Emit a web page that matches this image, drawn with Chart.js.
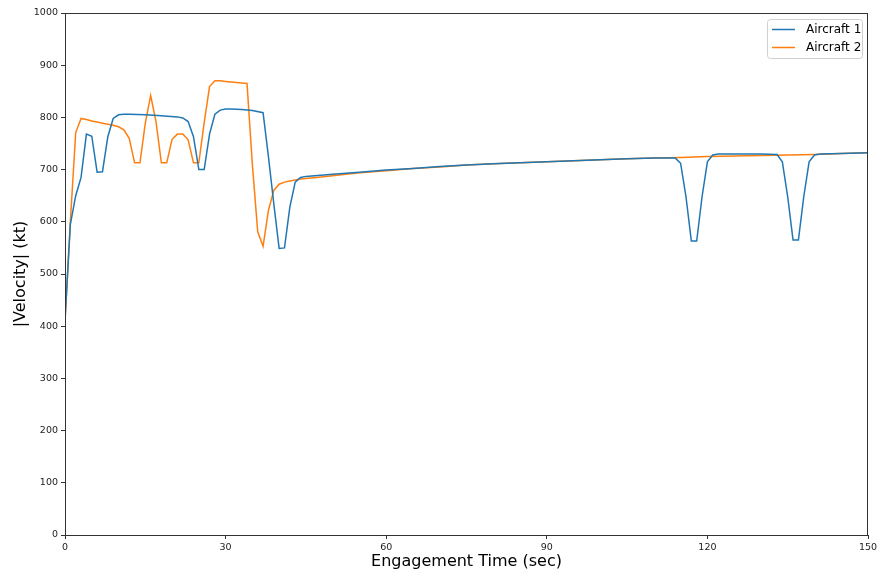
<!DOCTYPE html>
<html>
<head>
<meta charset="utf-8">
<script src="https://cdn.jsdelivr.net/npm/chart.js@4"></script>
<style>
  html, body { margin: 0; padding: 0; background: #fff; }
  #wrap { width: 877px; height: 571px; }
</style>
</head>
<body>
<div id="wrap"><canvas id="chart" width="877" height="571"></canvas></div>
<script>
// engagement time (sec) and speed (kt)
const timeA = [0, 1, 2, 3, 4, 5, 6, 7, 8, 9, 10, 11, 12, 15, 18, 21, 22, 23, 24, 25, 26, 27, 28, 29, 30, 31, 33, 35, 37, 38, 39, 40, 41, 42, 43, 44, 45, 50, 55, 60, 65, 70, 75, 80, 85, 90, 95, 100, 105, 110, 114, 115, 116, 117, 118, 119, 120, 121, 122, 126, 130, 133, 134, 135, 136, 137, 138, 139, 140, 141, 145, 150];
const speedA = [412, 595, 650, 685, 768, 764, 695, 696, 763, 798, 805, 806, 806, 805, 803, 801, 799, 792, 763, 700, 700, 768, 806, 814, 816, 816, 815, 813, 809, 725, 635, 549, 550, 628, 676, 685, 687, 691, 695, 699, 702, 706, 709, 711, 713, 715, 717, 719, 721, 722, 722, 712, 648, 563, 563, 648, 715, 728, 730, 730, 730, 729, 715, 648, 565, 565, 648, 715, 728, 730, 731, 732.5];

const timeB = [0, 1, 2, 3, 4, 5, 6, 7, 8, 9, 10, 11, 12, 13, 14, 15, 16, 17, 18, 19, 20, 21, 22, 23, 24, 25, 26, 27, 28, 29, 30, 31, 32, 33, 34, 35, 36, 37, 38, 39, 40, 41, 42, 43, 44, 45, 47, 50, 55, 60, 65, 70, 75, 80, 85, 90, 95, 100, 105, 110, 115, 120, 125, 130, 135, 140, 145, 150];
const speedB = [410, 600, 771, 798, 796, 793, 791, 789, 787, 785, 782, 776, 760, 713, 713, 789, 842, 792, 713, 713, 758, 768, 768, 757, 713, 713, 790, 859, 870, 870, 869, 868, 867, 866, 865, 710, 581, 553, 622, 660, 672, 676, 678, 680, 682, 683, 685, 688, 694, 698, 702, 705, 709, 711, 713, 715, 717, 719, 721, 722, 723, 725, 726, 727, 728, 729, 731, 732.5];

const seriesNames = ['Aircraft 1', 'Aircraft 2'];
const xTicks = [0, 30, 60, 90, 120, 150];

function toPoints(xs, ys) {
  return xs.map((x, i) => ({ x: x, y: ys[i] }));
}

// axes frame on all four sides, like matplotlib spines
const frame = {
  id: 'frame',
  afterDatasetsDraw(chart) {
    const { ctx, chartArea } = chart;
    ctx.save();
    ctx.strokeStyle = '#333';
    ctx.lineWidth = 1;
    ctx.strokeRect(chartArea.left + 0.5, chartArea.top + 0.5,
      chartArea.right - chartArea.left - 1, chartArea.bottom - chartArea.top);
    ctx.restore();
  }
};

// boxed legend in the upper right corner
const legendBox = {
  id: 'legendBox',
  afterDraw(chart) {
    const { ctx, chartArea } = chart;
    const sets = chart.data.datasets;
    const w = 95, h = 39;
    const x = chartArea.right - w - 6, y = chartArea.top + 6;
    ctx.save();
    ctx.fillStyle = 'rgba(255,255,255,0.8)';
    ctx.strokeStyle = '#d0d0d0';
    ctx.lineWidth = 1;
    ctx.beginPath();
    ctx.roundRect(x + 0.5, y + 0.5, w, h, 3);
    ctx.fill();
    ctx.stroke();
    ctx.font = '12px "DejaVu Sans"';
    ctx.textBaseline = 'middle';
    sets.forEach((ds, i) => {
      const ly = y + 10.5 + i * 18;
      ctx.strokeStyle = ds.borderColor;
      ctx.lineWidth = 1.5;
      ctx.beginPath();
      ctx.moveTo(x + 5, ly);
      ctx.lineTo(x + 28, ly);
      ctx.stroke();
      ctx.fillStyle = '#000';
      ctx.fillText(ds.label, x + 39, ly);
    });
    ctx.restore();
  }
};

new Chart(document.getElementById('chart'), {
  type: 'line',
  data: {
    datasets: [
      {
        label: seriesNames[0],
        data: toPoints(timeA, speedA),
        borderColor: '#1f77b4',
        backgroundColor: '#1f77b4',
        borderWidth: 1.5,
        pointRadius: 0,
        tension: 0,
      },
      {
        label: seriesNames[1],
        data: toPoints(timeB, speedB),
        borderColor: '#ff7f0e',
        backgroundColor: '#ff7f0e',
        borderWidth: 1.5,
        pointRadius: 0,
        tension: 0,
      },
    ],
  },
  options: {
    responsive: false,
    animation: false,
    layout: { padding: { top: 13, right: 9, left: 0, bottom: 0 } },
    plugins: {
      legend: { display: false },
      tooltip: { enabled: false },
    },
    scales: {
      x: {
        type: 'linear',
        min: 0,
        max: 150,
        afterBuildTicks: (s) => { s.ticks = xTicks.map(v => ({ value: v })); },
        afterFit: (s) => { s.height = 36; s.paddingRight = 0; s.paddingLeft = 0; },
        grid: { display: true, drawOnChartArea: false, tickLength: 4, color: '#333' },
        border: { color: '#333' },
        ticks: { color: '#222', padding: 3, font: { family: 'DejaVu Sans', size: 9.5 }, maxRotation: 0 },
        title: {
          display: true,
          text: 'Engagement Time (sec)',
          color: '#000',
          font: { family: 'DejaVu Sans', size: 16 },
          padding: { top: 0, bottom: 0 },
        },
      },
      y: {
        min: 0,
        max: 1000,
        afterFit: (s) => { s.width = 65; s.paddingTop = 0; },
        grid: { display: true, drawOnChartArea: false, tickLength: 4, color: '#333' },
        border: { color: '#333' },
        ticks: {
          stepSize: 100,
          color: '#222',
          padding: 3,
          font: { family: 'DejaVu Sans', size: 9.5 },
          callback: (v) => String(v),
        },
        title: {
          display: true,
          text: '|Velocity| (kt)',
          color: '#000',
          font: { family: 'DejaVu Sans', size: 16 },
          padding: { top: 11, bottom: 11 },
        },
      },
    },
  },
  plugins: [frame, legendBox],
});
</script>
</body>
</html>
